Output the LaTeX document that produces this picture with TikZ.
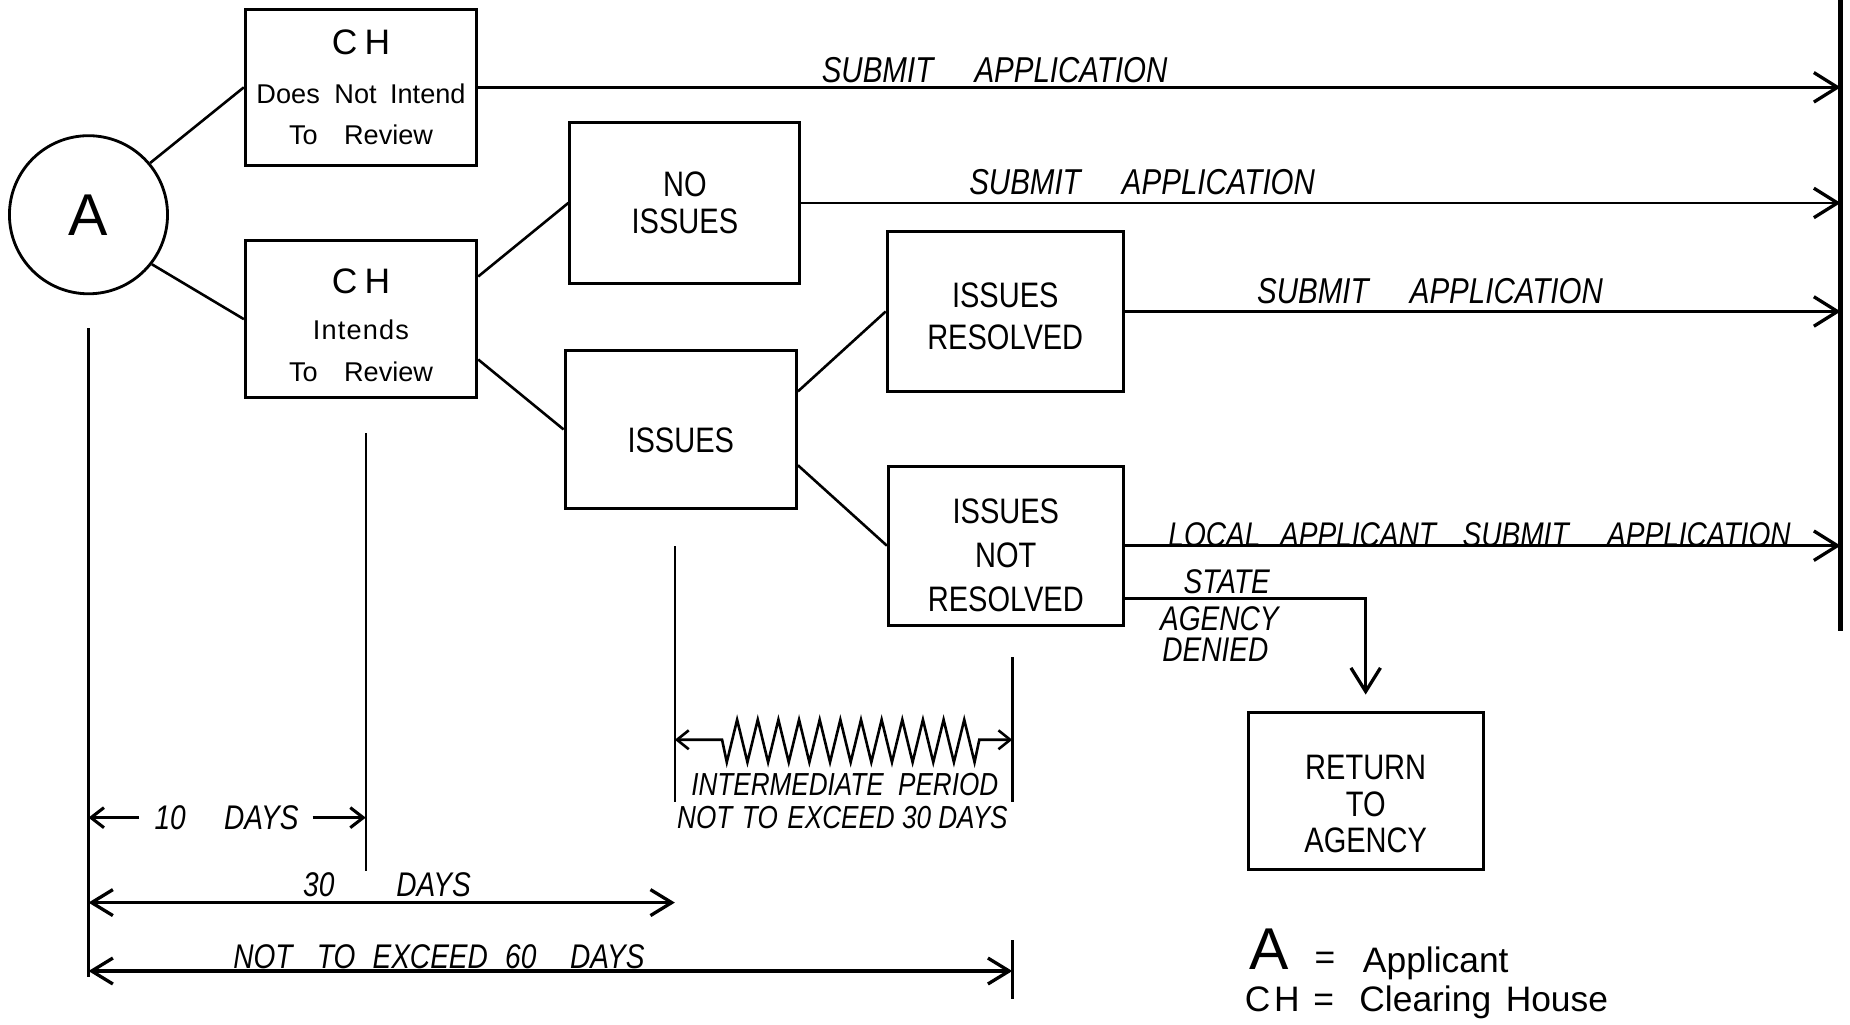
\documentclass[tikz,border=0pt]{standalone}
\usepackage{fontspec}
\setmainfont{Liberation Sans}[FakeStretch=0.82]
\newfontfamily\lsplain{Liberation Sans}
\usetikzlibrary{arrows.meta}
% box text: lowered by #1, line spacing #2
\newcommand{\bxtext}[3]{\raisebox{#1}[\height][\depth]{\fontsize{30}{#2}\selectfont\begin{tabular}{@{}c@{}}#3\end{tabular}}}
\begin{document}
\begin{tikzpicture}[x=1pt,y=-1pt,
  box/.style={draw, line width=2.6pt, inner sep=0pt, align=center, font=\fontsize{30}{36}\selectfont},
  conn/.style={line width=2.2pt},
  flow/.style={line width=2.4pt, -{Straight Barb[length=20pt,width=25pt,line width=2.8pt]}},
  dim/.style={line width=2pt},
  dimarr/.style={line width=2.8pt, {Straight Barb[length=18pt,width=22pt]}-{Straight Barb[length=18pt,width=22pt]}},
  smallarr/.style={line width=2.6pt, -{Straight Barb[length=11pt,width=17pt]}},
  zigarr/.style={line width=2.2pt, line join=miter, {Straight Barb[length=10pt,width=16pt]}-{Straight Barb[length=10pt,width=16pt]}},
  lbl/.style={font=\itshape\fontsize{29}{29}\selectfont, inner sep=0pt, anchor=base},
  biglbl/.style={lbl, font=\itshape\fontsize{30.5}{30.5}\selectfont},
  lgd/.style={font=\lsplain\fontsize{30}{30}\selectfont, inner sep=0pt, anchor=base west},
  ]
\useasboundingbox (0,0) rectangle (1568,868);

% main nodes
\node[circle, draw, line width=2.4pt, minimum size=134pt, inner sep=0pt, font=\lsplain\fontsize{50}{50}\selectfont] (A) at (75,182) {A};
\node[box, minimum width=196pt, minimum height=132pt, font=\lsplain\fontsize{23}{35}\selectfont] (ch1) at (306,74)
  {{\fontsize{30}{35}\selectfont C\kern6pt H}\\[6pt]Does \hspace{6pt}Not \hspace{5pt}Intend\\To \hspace{16pt}Review};
\node[box, minimum width=196pt, minimum height=133pt, font=\lsplain\fontsize{23}{36}\selectfont] (ch2) at (306,270.5)
  {{\fontsize{30}{36}\selectfont\rule{0pt}{31.5pt}C\kern6pt H}\\[3pt]I\kern1pt n\kern1pt t\kern1pt e\kern1pt n\kern1pt d\kern1pt s\\To \hspace{16pt}Review};
\node[box, minimum width=195pt, minimum height=136pt, font=\fontsize{30}{31}\selectfont] (noi) at (580.5,172) {NO\\ISSUES};
\node[box, minimum width=196pt, minimum height=134pt] (iss) at (577,364) {\bxtext{-12pt}{36}{ISSUES}};
\node[box, minimum width=200pt, minimum height=136pt] (ir) at (852,264) {\bxtext{-7pt}{36}{ISSUES\\RESOLVED}};
\node[box, minimum width=199pt, minimum height=135pt] (inr) at (852.5,462.5) {\bxtext{-11pt}{37.5}{ISSUES\\NOT\\RESOLVED}};
\node[box, minimum width=199pt, minimum height=133pt] (ret) at (1157.5,670.5) {\bxtext{-15pt}{31}{RETURN\\TO\\AGENCY}};

% connectors
\draw[conn] (A.40) -- (ch1.west);
\draw[conn] (A.-38) -- (ch2.west);
\draw[conn] (ch2.20) -- (noi.west);
\draw[conn] (ch2.-19) -- (iss.west);
\draw[conn] (iss.18) -- (ir.west);
\draw[conn] (iss.-17) -- (inr.west);

% right bar and flows
\coordinate (barT) at (1560,0);
\coordinate (barB) at (1560,535);
\draw[line width=3.8pt] (barT) -- (barB);
\draw[flow] (ch1.east) -- (ch1.east -| barT);
\draw[flow] (noi.east) -- (noi.east -| barT);
\draw[flow] (ir.east) -- (ir.east -| barT);
\draw[flow] (inr.east) -- (inr.east -| barT);
\draw[flow, shorten >=14pt] (inr.-24.6) -| (ret.north);

% flow labels
\node[biglbl] (l1) at (843,70) {SUBMIT \hspace{28pt}APPLICATION};
\node[biglbl] (l2) at (968,165) {SUBMIT \hspace{28pt}APPLICATION};
\node[biglbl] (l3) at (1212,257) {SUBMIT \hspace{28pt}APPLICATION};
\node[lbl] (l4) at (1254,463) {LOCAL \hspace{10pt}APPLICANT \hspace{16pt}SUBMIT \hspace{26pt}APPLICATION};
\node[lbl, anchor=base west] (s1) at (1003,503) {STATE};
\node[lbl, anchor=base west] (s2) at (983,534) {AGENCY};
\node[lbl, anchor=base west] (s3) at (985,561) {DENIED};

% dimension verticals
\coordinate (vA1) at (75,278);  \coordinate (vA2) at (75,828);
\coordinate (vB1) at (310,367); \coordinate (vB2) at (310,738);
\coordinate (vC1) at (572,463); \coordinate (vC2) at (572,680);
\coordinate (vD1) at (858,557); \coordinate (vD2) at (858,680);
\coordinate (vE1) at (858,797); \coordinate (vE2) at (858,847);
\draw[dim] (vA1) -- (vA2);
\draw[dim] (vB1) -- (vB2);
\draw[dim] (vC1) -- (vC2);
\draw[dim] (vD1) -- (vD2);
\draw[dim] (vE1) -- (vE2);

% 10 days
\coordinate (a10L) at (118,693);
\coordinate (a10R) at (265,693);
\draw[smallarr] (a10L) -- (vA1 |- a10L);
\draw[smallarr] (a10R) -- (vB1 |- a10R);
\node[lbl] (t10) at (192,703) {10 \hspace{26pt}DAYS};

% 30 days
\coordinate (a30) at (0,765);
\draw[dimarr] (vA1 |- a30) -- (vC1 |- a30);
\node[lbl] (t30) at (328,760) {30 \hspace{46pt}DAYS};

% 60 days
\coordinate (a60) at (0,823);
\draw[dimarr] (vA1 |- a60) -- (vE1 |- a60);
\node[lbl] (t60) at (372,821) {NOT \hspace{14pt}TO \hspace{8pt}EXCEED \hspace{8pt}60 \hspace{22pt}DAYS};

% intermediate period zigzag
\coordinate (zy) at (0,627);
\draw[zigarr] (vC1 |- zy) -- (612,627) -- (616,646) -- (624.75,610) -- (633.5,646) -- (642.25,610)
  -- (651,646) -- (659.75,610) -- (668.5,646) -- (677.25,610) -- (686,646) -- (694.75,610)
  -- (703.5,646) -- (712.25,610) -- (721,646) -- (729.75,610) -- (738.5,646) -- (747.25,610)
  -- (756,646) -- (764.75,610) -- (773.5,646) -- (782.25,610) -- (791,646) -- (799.75,610)
  -- (808.5,646) -- (817.25,610) -- (826,646) -- (830,627) -- (vD1 |- zy);
\node[lbl, font=\itshape\fontsize{27}{27}\selectfont] (im1) at (716,674) {INTERMEDIATE \hspace{6pt}PERIOD};
\node[lbl, font=\itshape\fontsize{27}{27}\selectfont] (im2) at (714,702) {NOT \hspace{2pt}TO \hspace{2pt}EXCEED 30 DAYS};

% legend
\node[font=\lsplain\fontsize{50}{50}\selectfont, inner sep=0pt, anchor=base] (lgA) at (1076,822) {A};
\node[lgd, anchor=base] (lgE1) at (1123,822) {=};
\node[lgd] (lgApp) at (1155,824) {Applicant};
\node[lgd] (lgCH) at (1055,857) {C\kern3pt H};
\node[lgd, anchor=base] (lgE2) at (1122,857) {=};
\node[lgd] (lgCl) at (1152,857) {Clearing \hspace{4pt}House};
\end{tikzpicture}
\end{document}
